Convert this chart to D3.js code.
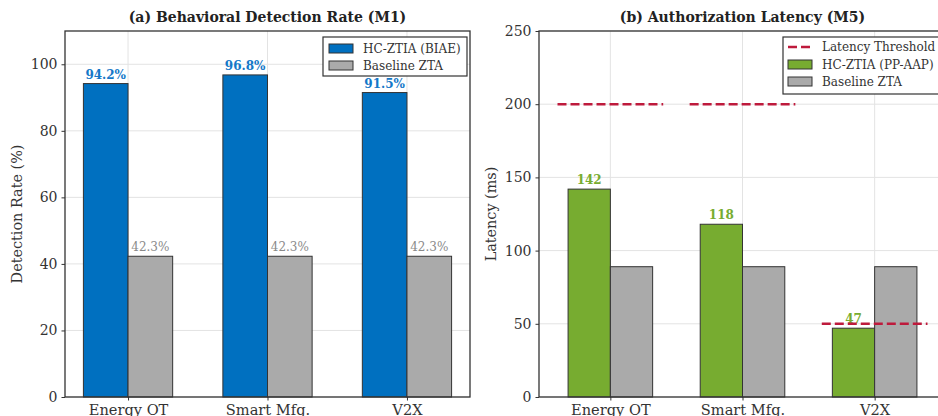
<!DOCTYPE html>
<html>
<head>
<meta charset="utf-8">
<script src="https://cdn.jsdelivr.net/npm/d3@7"></script>
<style>
  body { margin: 0; background: #fff; }
  svg { display: block; font-family: "DejaVu Serif", serif; }
</style>
</head>
<body>
<div id="chart"></div>
<script>
// Data
var categories = ["Energy OT", "Smart Mfg.", "V2X"];
var detection_Hc = [94.2, 96.8, 91.5];
var detection_Base = [42.3, 42.3, 42.3];
var latency_Hc = [142, 118, 47];
var latency_Base = [89, 89, 89];
var latency_Threshold = [200, 200, 50];
var detection_Ticks = [0, 20, 40, 60, 80, 100];
var latency_Ticks = [0, 50, 100, 150, 200, 250];

var svg_Width = 938;
var svg_Height = 416;

var blue = "#0070C0";
var green = "#77AC30";
var grey = "#AAAAAA";
var red = "#BE1A3C";
var barWidth = 0.32;

var svg = d3.select("#chart")
  .append("svg")
  .attr("width", svg_Width)
  .attr("height", svg_Height);

// Draw one panel: frame, grid, ticks, title
function drawPanel(opts) {
  var g = svg.append("g");
  var x = d3.scaleLinear().domain(opts.xDomain).range([opts.left, opts.right]);
  var y = d3.scaleLinear().domain(opts.yDomain).range([opts.bottom, opts.top]);

  // grid
  g.selectAll(".hgrid")
    .data(opts.yTicks)
    .enter().append("line")
    .attr("x1", opts.left).attr("x2", opts.right)
    .attr("y1", d => y(d)).attr("y2", d => y(d))
    .attr("stroke", "#e3e3e3").attr("stroke-width", 1);
  g.selectAll(".vgrid")
    .data(categories)
    .enter().append("line")
    .attr("x1", (d, i) => x(i)).attr("x2", (d, i) => x(i))
    .attr("y1", opts.top).attr("y2", opts.bottom)
    .attr("stroke", "#e3e3e3").attr("stroke-width", 1);

  // y axis ticks
  var left_Axis = d3.axisLeft(y).tickValues(opts.yTicks).tickSize(3.5).tickPadding(4);
  var ya = g.append("g")
    .attr("transform", `translate(${opts.left},0)`)
    .call(left_Axis);
  ya.select(".domain").remove();
  ya.selectAll("line").attr("stroke", "#333");
  ya.selectAll("text").attr("font-size", 14).attr("fill", "#333")
    .attr("font-family", "DejaVu Serif, serif");

  // x axis ticks
  var bottom_Axis = d3.axisBottom(x).tickValues([0, 1, 2])
    .tickFormat(i => categories[i]).tickSize(3.5).tickPadding(4);
  var xa = g.append("g")
    .attr("transform", `translate(0,${opts.bottom})`)
    .call(bottom_Axis);
  xa.select(".domain").remove();
  xa.selectAll("line").attr("stroke", "#333");
  xa.selectAll("text").attr("font-size", 14.6).attr("fill", "#333")
    .attr("font-family", "DejaVu Serif, serif");

  // title
  g.append("text")
    .attr("x", (opts.left + opts.right) / 2)
    .attr("y", 22)
    .attr("text-anchor", "middle")
    .attr("font-weight", "bold")
    .attr("font-size", 14)
    .attr("fill", "#222")
    .text(opts.title);

  // y label
  g.append("text")
    .attr("transform", "rotate(-90)")
    .attr("x", -(opts.top + opts.bottom) / 2)
    .attr("y", opts.left - 43)
    .attr("text-anchor", "middle")
    .attr("font-size", 14.4)
    .attr("fill", "#333")
    .text(opts.yLabel);

  return { g: g, x: x, y: y };
}

function drawBars(p, values, offset, color) {
  p.g.selectAll(null)
    .data(values)
    .enter().append("rect")
    .attr("x", (d, i) => p.x(i + offset))
    .attr("y", d => p.y(d))
    .attr("width", p.x(barWidth) - p.x(0))
    .attr("height", d => p.y(0) - p.y(d))
    .attr("fill", color)
    .attr("stroke", "#333")
    .attr("stroke-width", 1);
}

function drawLabels(p, values, offset, color, bold, fmt) {
  p.g.selectAll(null)
    .data(values)
    .enter().append("text")
    .attr("x", (d, i) => p.x(i + offset + barWidth / 2))
    .attr("y", d => p.y(d) - 5)
    .attr("text-anchor", "middle")
    .attr("font-size", 12)
    .attr("font-weight", bold ? "bold" : "normal")
    .attr("fill", color)
    .text(fmt);
}

function drawFrame(p, opts) {
  p.g.append("rect")
    .attr("x", opts.left).attr("y", opts.top)
    .attr("width", opts.right - opts.left)
    .attr("height", opts.bottom - opts.top)
    .attr("fill", "none")
    .attr("stroke", "#333")
    .attr("stroke-width", 1.3);
}

// ---- Panel (a)
var optsA = {
  left: 65, right: 470, top: 31, bottom: 397,
  xDomain: [-0.452, 2.452], yDomain: [0, 110], yTicks: detection_Ticks,
  title: "(a) Behavioral Detection Rate (M1)", yLabel: "Detection Rate (%)"
};
var pA = drawPanel(optsA);
drawBars(pA, detection_Hc, -barWidth, blue);
drawBars(pA, detection_Base, 0, grey);
drawLabels(pA, detection_Hc, -barWidth, "#1478C8", true, d => d.toFixed(1) + "%");
drawLabels(pA, detection_Base, 0, "#8a8a8a", false, d => d.toFixed(1) + "%");
drawFrame(pA, optsA);

// legend (a)
var legA = pA.g.append("g").attr("transform", "translate(323,37)");
legA.append("rect").attr("width", 144).attr("height", 39)
  .attr("fill", "#fff").attr("stroke", "#333").attr("stroke-width", 1.2);
[["HC-ZTIA (BIAE)", blue], ["Baseline ZTA", grey]].forEach(function(item, k) {
  legA.append("rect").attr("x", 6).attr("y", 7 + k * 17).attr("width", 24).attr("height", 9)
    .attr("fill", item[1]).attr("stroke", "#333").attr("stroke-width", 1);
  legA.append("text").attr("x", 40).attr("y", 16 + k * 17)
    .attr("font-size", 12).attr("fill", "#333").text(item[0]);
});

// ---- Panel (b)
var optsB = {
  left: 539, right: 946, top: 31, bottom: 397,
  xDomain: [-0.54, 2.54], yDomain: [0, 250], yTicks: latency_Ticks,
  title: "(b) Authorization Latency (M5)", yLabel: "Latency (ms)"
};
var pB = drawPanel(optsB);
drawBars(pB, latency_Hc, -barWidth, green);
drawBars(pB, latency_Base, 0, grey);
drawLabels(pB, latency_Hc, -barWidth, "#77AC30", true, d => d);

// threshold segments
pB.g.selectAll(null)
  .data(latency_Threshold)
  .enter().append("line")
  .attr("x1", (d, i) => pB.x(i - 0.4))
  .attr("x2", (d, i) => pB.x(i + 0.4))
  .attr("y1", d => pB.y(d)).attr("y2", d => pB.y(d))
  .attr("stroke", red).attr("stroke-width", 2.5)
  .attr("stroke-dasharray", "9,4");
drawFrame(pB, optsB);

// legend (b)
var legB = pB.g.append("g").attr("transform", "translate(783,37)");
legB.append("rect").attr("width", 158).attr("height", 57)
  .attr("fill", "#fff").attr("stroke", "#333").attr("stroke-width", 1.2);
legB.append("line").attr("x1", 5).attr("x2", 29).attr("y1", 10).attr("y2", 10)
  .attr("stroke", red).attr("stroke-width", 2.5).attr("stroke-dasharray", "9,4");
legB.append("text").attr("x", 39).attr("y", 14)
  .attr("font-size", 12).attr("fill", "#333").text("Latency Threshold");
[["HC-ZTIA (PP-AAP)", green], ["Baseline ZTA", grey]].forEach(function(item, k) {
  legB.append("rect").attr("x", 5).attr("y", 23 + k * 17).attr("width", 24).attr("height", 9)
    .attr("fill", item[1]).attr("stroke", "#333").attr("stroke-width", 1);
  legB.append("text").attr("x", 39).attr("y", 32 + k * 17)
    .attr("font-size", 12).attr("fill", "#333").text(item[0]);
});
</script>
</body>
</html>
